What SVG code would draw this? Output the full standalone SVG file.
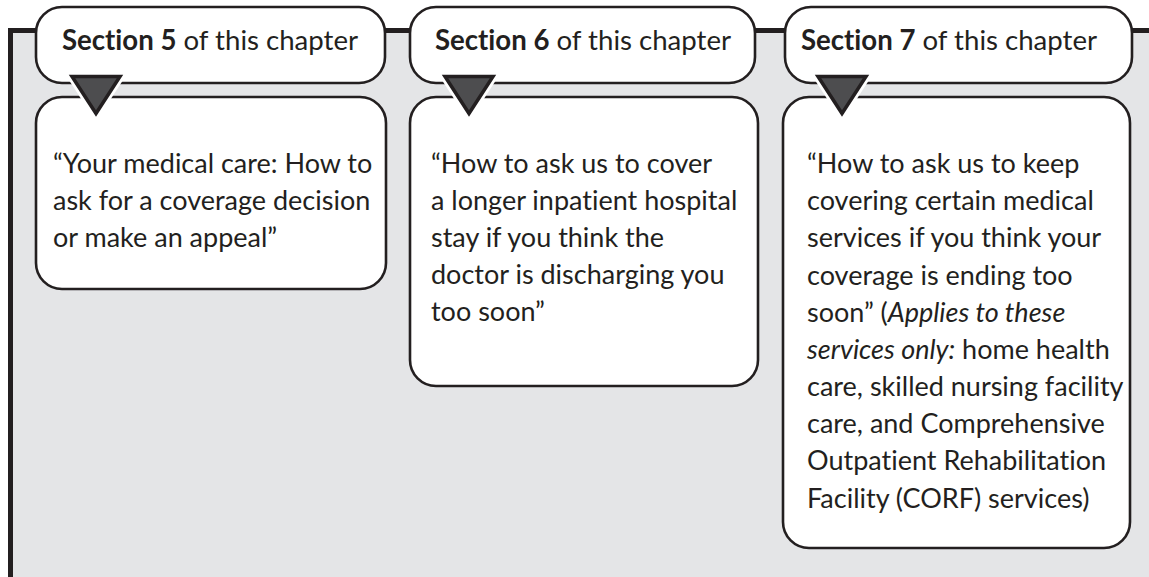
<svg xmlns="http://www.w3.org/2000/svg" width="1149" height="577" viewBox="0 0 1149 577">
<style>
.frame{fill:none;stroke:#231f20;stroke-width:5}
.tab,.box{fill:#ffffff;stroke:#231f20;stroke-width:2.6}
.halo{fill:#ffffff;stroke:#ffffff;stroke-width:9;stroke-linejoin:round}
.tri{fill:#4d4d4f;stroke:#231f20;stroke-width:3.5;stroke-linejoin:miter}
text{font-family:Lato,"Open Sans","Liberation Sans",sans-serif;fill:#231f20;font-variant-ligatures:none;font-feature-settings:"liga" 0,"clig" 0}
.th{font-size:27.6px;text-anchor:middle}
.b{font-weight:bold}
.body{font-size:27px}
.it{font-style:italic}
</style>
<rect x="10" y="30" width="1139" height="547" fill="#e4e5e7"/>
<path class="frame" d="M10.5,577 V30.5 H1149"/>
<g id="box1">
<rect class="box" x="36" y="97" width="350" height="192" rx="26"/>
<text class="body"><tspan x="53" y="173">“Your medical care: How to</tspan><tspan x="53" y="210">ask for a coverage decision</tspan><tspan x="53" y="247">or make an appeal”</tspan></text>
</g>
<g id="box2">
<rect class="box" x="410" y="97" width="348" height="289" rx="26"/>
<text class="body"><tspan x="431" y="173">“How to ask us to cover</tspan><tspan x="431" y="210">a longer inpatient hospital</tspan><tspan x="431" y="247">stay if you think the</tspan><tspan x="431" y="284">doctor is discharging you</tspan><tspan x="431" y="321">too soon”</tspan></text>
</g>
<g id="box3">
<rect class="box" x="783" y="97" width="347" height="451" rx="26"/>
<text class="body"><tspan x="807" y="173">“How to ask us to keep</tspan><tspan x="807" y="210">covering certain medical</tspan><tspan x="807" y="247">services if you think your</tspan><tspan x="807" y="285">coverage is ending too</tspan><tspan x="807" y="322">soon” (<tspan class="it">Applies to these</tspan></tspan><tspan x="807" y="359"><tspan class="it">services only:</tspan> home health</tspan><tspan x="807" y="396">care, skilled nursing facility</tspan><tspan x="807" y="433">care, and Comprehensive</tspan><tspan x="807" y="470">Outpatient Rehabilitation</tspan><tspan x="807" y="508">Facility (CORF) services)</tspan></text>
</g>
<g id="tab5">
<rect class="tab" x="36" y="7" width="349" height="76" rx="26"/>
<text class="th" x="210" y="50"><tspan class="b">Section 5</tspan> of this chapter</text>
</g>
<g id="tab6">
<rect class="tab" x="410" y="7" width="345" height="76" rx="26"/>
<text class="th" x="583" y="50"><tspan class="b">Section 6</tspan> of this chapter</text>
</g>
<g id="tab7">
<rect class="tab" x="785" y="7" width="347" height="76" rx="26"/>
<text class="th" x="949" y="50"><tspan class="b">Section 7</tspan> of this chapter</text>
</g>
<g id="connectors">
<polygon class="halo" points="72,76.5 120,76.5 96,113.5"/>
<polygon class="tri" points="72,76.5 120,76.5 96,113.5"/>
<polygon class="halo" points="445,76.5 493,76.5 469,113.5"/>
<polygon class="tri" points="445,76.5 493,76.5 469,113.5"/>
<polygon class="halo" points="818,76.5 866,76.5 842,113.5"/>
<polygon class="tri" points="818,76.5 866,76.5 842,113.5"/>
</g>
</svg>
